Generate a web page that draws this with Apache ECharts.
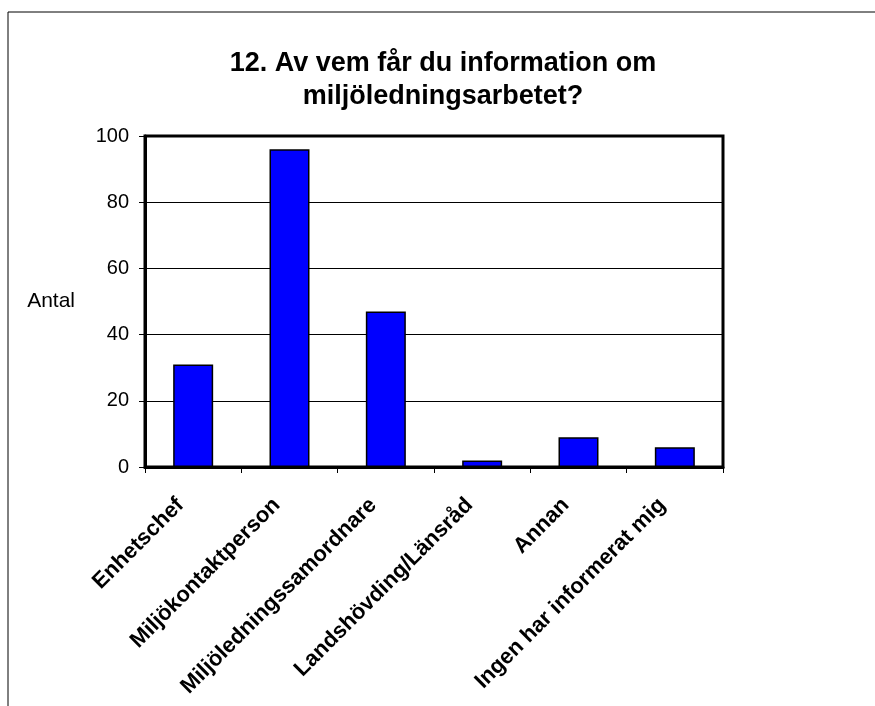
<!DOCTYPE html>
<html>
<head>
<meta charset="utf-8">
<script src="https://cdn.jsdelivr.net/npm/echarts@6/dist/echarts.min.js"></script>
<style>
  html, body { margin: 0; padding: 0; background: #fff; }
  #chart { width: 875px; height: 706px; }
</style>
</head>
<body>
<div id="chart"></div>
<script>
const categories = ['Enhetschef', 'Miljökontaktperson', 'Miljöledningssamordnare', 'Landshövding/Länsråd', 'Annan', 'Ingen har informerat mig']
const antal = [31, 96, 47, 2, 9, 6]
const yTicks = { min: 0, max: 100, interval: 20 }

const font = 'Liberation Sans, Arial, sans-serif'
const chart = echarts.init(document.getElementById('chart'))
const option = {
  animation: false,
  title: {
    text: '12. Av vem får du information om\nmiljöledningsarbetet?',
    left: 438,
    top: 42,
    textAlign: 'center',
    textStyle: { fontFamily: font, fontSize: 27, fontWeight: 'bold', color: '#000', lineHeight: 33 }
  },
  graphic: [
    {
      type: 'polyline',
      shape: { points: [[8, 706], [8, 12], [880, 12]] },
      style: { stroke: '#000', lineWidth: 1, fill: null }
    }
  ],
  grid: {
    left: 145, right: 152, top: 136, bottom: 239,
    show: true, borderColor: '#000', borderWidth: 3
  },
  xAxis: {
    type: 'category',
    data: categories,
    axisLine: { show: true, lineStyle: { color: '#000', width: 3 } },
    axisTick: { show: true, alignWithLabel: false, length: 6, lineStyle: { color: '#000', width: 1 } },
    axisLabel: {
      interval: 0, rotate: 45, margin: 22, padding: [0, 18, 0, 0],
      fontFamily: font, fontSize: 22, fontWeight: 'bold', color: '#000'
    }
  },
  yAxis: {
    type: 'value',
    min: yTicks.min, max: yTicks.max, interval: yTicks.interval,
    name: 'Antal',
    nameLocation: 'middle',
    nameRotate: 0,
    nameGap: 70,
    nameTextStyle: { fontFamily: font, fontSize: 21, color: '#000' },
    axisLine: { show: true, lineStyle: { color: '#000', width: 3 } },
    axisTick: { show: true, length: 6, lineStyle: { color: '#000', width: 1 } },
    axisLabel: { fontFamily: font, fontSize: 20, color: '#000', margin: 16 },
    splitLine: { show: true, lineStyle: { color: '#000', width: 1 } }
  },
  series: [
    {
      type: 'bar',
      data: antal,
      barWidth: 40,
      itemStyle: { color: '#0000FF', borderColor: '#000', borderWidth: 1.5 }
    }
  ]
}
chart.setOption(option)
</script>
</body>
</html>
